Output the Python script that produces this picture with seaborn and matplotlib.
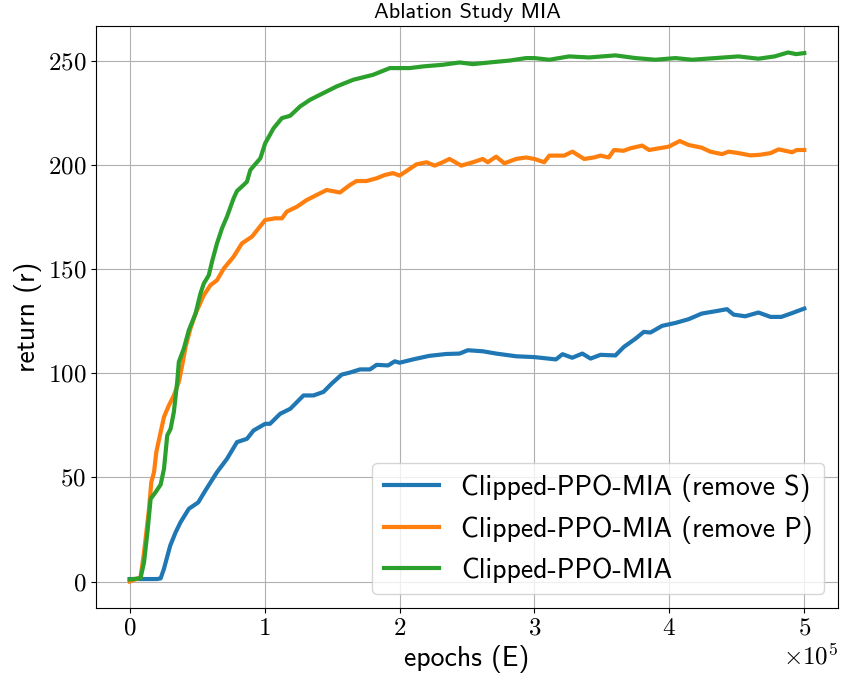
import numpy as np
import pandas as pd
import seaborn as sns
import matplotlib
matplotlib.use("Agg")
import matplotlib.pyplot as plt

# ---- data (x in units of 1e5 epochs) ----
series_names = ["Clipped-PPO-MIA (remove S)", "Clipped-PPO-MIA (remove P)", "Clipped-PPO-MIA"]

x_remove_s = [0, 0.1, 0.2, 0.229, 0.253, 0.30, 0.34, 0.377, 0.438, 0.508,
              0.561, 0.647, 0.721, 0.795, 0.869, 0.918, 1.004, 1.04, 1.115, 1.19,
              1.288, 1.362, 1.436, 1.497, 1.571, 1.633, 1.707, 1.781, 1.83, 1.915,
              1.965, 2.0, 2.1, 2.22, 2.346, 2.445, 2.506, 2.617, 2.716, 2.864,
              3.0, 3.159, 3.208, 3.28, 3.355, 3.416, 3.49, 3.60, 3.663, 3.75,
              3.81, 3.86, 3.946, 4.045, 4.143, 4.24, 4.34, 4.427, 4.476, 4.562,
              4.66, 4.75, 4.83, 4.9, 5.0]
y_remove_s = [1.2, 1.2, 1.2, 1.5, 6, 17.2, 23.6, 28.5, 34.9, 38,
              43.7, 52.5, 58.9, 66.9, 68.5, 72.5, 75.7, 75.7, 80.5, 82.9,
              89.3, 89.3, 91, 95, 99.3, 100.3, 101.8, 101.8, 104, 103.7,
              105.7, 105, 106.6, 108.3, 109.2, 109.4, 111, 110.5, 109.4, 108.1,
              107.7, 106.6, 109.1, 107.4, 109.4, 107, 108.8, 108.5, 112.6, 116.6,
              119.8, 119.5, 122.7, 124.1, 125.9, 128.6, 129.7, 130.7, 128.1, 127.3,
              129.1, 127, 127, 128.6, 131]

x_remove_p = [0, 0.08, 0.106, 0.143, 0.16, 0.18, 0.197, 0.229, 0.254, 0.29,
              0.327, 0.364, 0.389, 0.414, 0.45, 0.488, 0.549, 0.598, 0.647, 0.697,
              0.77, 0.832, 0.906, 0.955, 1.004, 1.078, 1.128, 1.164, 1.24, 1.312,
              1.41, 1.46, 1.558, 1.632, 1.681, 1.755, 1.829, 1.891, 1.952, 2.0,
              2.063, 2.125, 2.2, 2.26, 2.32, 2.37, 2.457, 2.543, 2.617, 2.654,
              2.716, 2.777, 2.864, 2.938, 3.0, 3.072, 3.11, 3.22, 3.282, 3.368,
              3.44, 3.49, 3.55, 3.59, 3.66, 3.71, 3.798, 3.85, 3.996, 4.077,
              4.143, 4.24, 4.303, 4.39, 4.44, 4.512, 4.6, 4.673, 4.75, 4.81,
              4.91, 4.944, 5.0]
y_remove_p = [0, 2, 14, 34.9, 47.7, 52.5, 62.1, 71.7, 79, 84.5,
              89.3, 95.8, 103.8, 112.6, 121.4, 128.6, 137.4, 142.2, 144.6, 150.2,
              155.9, 162.3, 165.5, 169.5, 173.5, 174.3, 174.3, 177.5, 179.9, 183.1,
              186.3, 187.9, 186.7, 190.3, 192.2, 192.2, 193.5, 195.1, 196, 194.8,
              197.5, 200.2, 201.2, 199.6, 201.2, 202.8, 199.6, 201.2, 202.8, 201.2,
              203.9, 200.7, 202.8, 203.5, 202.8, 201.2, 204.4, 204.4, 206.3, 202.8,
              203.5, 204.4, 203.5, 207.1, 206.7, 207.9, 209.2, 207.1, 208.7, 211.4,
              209.5, 208.2, 206.3, 205.1, 206.3, 205.6, 204.5, 204.8, 205.6, 207.4,
              206, 207.1, 207.1]

x_full = [0, 0.08, 0.106, 0.131, 0.155, 0.192, 0.229, 0.254, 0.278, 0.303,
          0.327, 0.352, 0.364, 0.401, 0.438, 0.488, 0.524, 0.549, 0.586, 0.61,
          0.647, 0.684, 0.721, 0.77, 0.795, 0.844, 0.869, 0.894, 0.968, 1.004,
          1.066, 1.128, 1.189, 1.263, 1.337, 1.435, 1.534, 1.657, 1.805, 1.928,
          2.075, 2.174, 2.322, 2.445, 2.543, 2.666, 2.814, 2.938, 3.0, 3.11,
          3.257, 3.405, 3.6, 3.75, 3.897, 4.045, 4.168, 4.34, 4.512, 4.66,
          4.78, 4.88, 4.94, 5.0]
y_full = [1, 1.6, 9.2, 23.6, 39.7, 42.9, 46.5, 54.1, 70.1, 73.3,
          81.3, 95.8, 105.4, 111.8, 120.6, 128.6, 138.2, 143, 147, 153.5,
          162.3, 169.5, 175.1, 183.9, 187.4, 190.3, 191.9, 197.5, 203.1, 210.3,
          217.5, 222.4, 223.5, 228, 231.2, 234.4, 237.6, 240.8, 243.2, 246.4,
          246.4, 247.2, 248, 249.1, 248.3, 249.1, 250, 251.2, 251.2, 250.4,
          252, 251.5, 252.5, 251.2, 250.4, 251.2, 250.4, 251.2, 252, 250.9,
          252, 253.9, 253.1, 253.6]

x_scale = 1e5
y_ticks = [0, 50, 100, 150, 200, 250]

frames = []
for name, xs, ys in zip(series_names,
                        [x_remove_s, x_remove_p, x_full],
                        [y_remove_s, y_remove_p, y_full]):
    assert len(xs) == len(ys)
    frames.append(pd.DataFrame({"epochs": np.array(xs) * x_scale,
                                "return": ys, "method": name}))
df = pd.concat(frames, ignore_index=True)

# ---- style ----
plt.rcParams["font.family"] = "cmr10"
plt.rcParams["mathtext.fontset"] = "cm"
plt.rcParams["axes.formatter.use_mathtext"] = True
plt.rcParams["axes.unicode_minus"] = False

fig = plt.figure(figsize=(8.43, 6.81), dpi=100)
ax = fig.add_axes([96 / 843, 1 - 608 / 681, (838 - 96) / 843, (608 - 26) / 681])

palette = ["#1f77b4", "#ff7f0e", "#2ca02c"]
sns.lineplot(data=df, x="epochs", y="return", hue="method", palette=palette,
             estimator=None, sort=False, linewidth=3, ax=ax)

ax.grid(True, color="#b0b0b0", linewidth=0.8)
ax.set_yticks(y_ticks)
ax.ticklabel_format(style="sci", axis="x", scilimits=(0, 0))
ax.tick_params(labelsize=18)
ax.xaxis.get_offset_text().set_fontsize(18)

ax.set_xlabel("epochs (E)", fontsize=20, fontfamily="cmss10")
ax.set_ylabel("return (r)", fontsize=20, fontfamily="cmss10")
ax.set_title("Ablation Study MIA", fontsize=16, fontfamily="cmss10")

leg = ax.legend(loc="lower right", prop={"family": "cmss10", "size": 20},
                handlelength=2.0)
for line in leg.get_lines():
    line.set_linewidth(3)

fig.savefig("out.png", dpi=100)
